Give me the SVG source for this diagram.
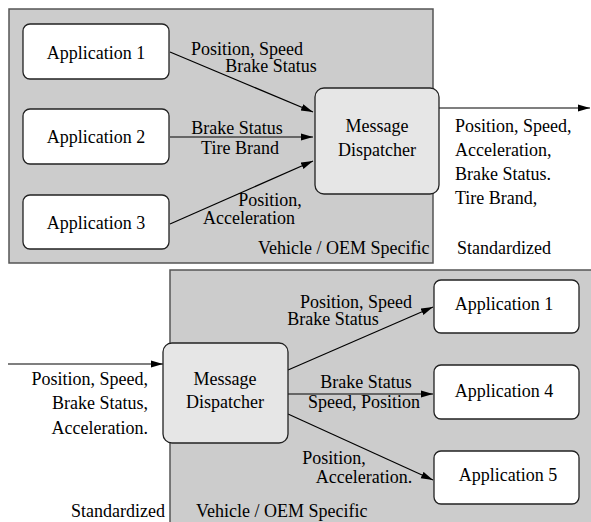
<svg xmlns="http://www.w3.org/2000/svg" width="591" height="522" viewBox="0 0 591 522" font-family="Times New Roman, Liberation Serif, serif">
<defs>
<marker id="ah" markerUnits="userSpaceOnUse" markerWidth="14" markerHeight="10" refX="12" refY="4" orient="auto">
<path d="M0,0.5 L12,4 L0,7.5 Z" fill="#000000"/>
</marker>
</defs>
<rect width="591" height="522" fill="#ffffff"/>
<g id="panels">
<rect id="top-panel" fill="#cccccc" stroke="#555555" stroke-width="1.5" x="9" y="9" width="424" height="254"/>
<rect id="bottom-panel" fill="#cccccc" stroke="#555555" stroke-width="1.5" x="170" y="270" width="425" height="256"/>
</g>
<g id="connectors" stroke="#000000" stroke-width="1.2" fill="none" marker-end="url(#ah)">
<line x1="170" y1="52" x2="313" y2="112"/>
<line x1="170" y1="137" x2="313" y2="137"/>
<line x1="170" y1="224" x2="313" y2="161"/>
<line x1="439" y1="108" x2="590" y2="108"/>
<line x1="8" y1="364" x2="163" y2="364"/>
<line x1="288" y1="370" x2="433" y2="307"/>
<line x1="288" y1="394" x2="433" y2="394"/>
<line x1="288" y1="414" x2="433" y2="480"/>
</g>
<g id="top-app1"><rect fill="#ffffff" stroke="#222222" stroke-width="1.3" x="23" y="24" width="146" height="55" rx="7"/><text font-family="Times New Roman" font-size="18" text-anchor="middle" x="96" y="59">Application 1</text></g>
<g id="top-app2"><rect fill="#ffffff" stroke="#222222" stroke-width="1.3" x="23" y="109" width="146" height="55" rx="7"/><text font-family="Times New Roman" font-size="18" text-anchor="middle" x="96" y="143">Application 2</text></g>
<g id="top-app3"><rect fill="#ffffff" stroke="#222222" stroke-width="1.3" x="23" y="195" width="146" height="54" rx="7"/><text font-family="Times New Roman" font-size="18" text-anchor="middle" x="96" y="229">Application 3</text></g>
<g id="top-dispatcher"><rect fill="#e6e6e6" stroke="#222222" stroke-width="1.3" x="315" y="88" width="124" height="106" rx="9"/><text font-family="Times New Roman" font-size="18" text-anchor="middle" x="377" y="132">Message</text><text font-family="Times New Roman" font-size="18" text-anchor="middle" x="377" y="156">Dispatcher</text></g>
<g id="bottom-dispatcher"><rect fill="#e6e6e6" stroke="#222222" stroke-width="1.3" x="163" y="343" width="125" height="100" rx="9"/><text font-family="Times New Roman" font-size="18" text-anchor="middle" x="225" y="385">Message</text><text font-family="Times New Roman" font-size="18" text-anchor="middle" x="225" y="408">Dispatcher</text></g>
<g id="bottom-app1"><rect fill="#ffffff" stroke="#222222" stroke-width="1.3" x="434" y="280" width="145" height="53" rx="7"/><text font-family="Times New Roman" font-size="18" text-anchor="middle" x="504" y="310">Application 1</text></g>
<g id="bottom-app4"><rect fill="#ffffff" stroke="#222222" stroke-width="1.3" x="434" y="365" width="145" height="54" rx="7"/><text font-family="Times New Roman" font-size="18" text-anchor="middle" x="504" y="397">Application 4</text></g>
<g id="bottom-app5"><rect fill="#ffffff" stroke="#222222" stroke-width="1.3" x="434" y="451" width="145" height="53" rx="7"/><text font-family="Times New Roman" font-size="18" text-anchor="middle" x="508" y="481">Application 5</text></g>
<g id="labels">
<text font-family="Times New Roman" font-size="18" text-anchor="middle" x="247" y="55">Position, Speed</text>
<text font-family="Times New Roman" font-size="18" text-anchor="middle" x="271" y="72">Brake Status</text>
<text font-family="Times New Roman" font-size="18" text-anchor="middle" x="237" y="134">Brake Status</text>
<text font-family="Times New Roman" font-size="18" text-anchor="middle" x="240" y="154">Tire Brand</text>
<text font-family="Times New Roman" font-size="18" text-anchor="middle" x="270" y="206">Position,</text>
<text font-family="Times New Roman" font-size="18" text-anchor="middle" x="249" y="224">Acceleration</text>
<text font-family="Times New Roman" font-size="18" x="258" y="254">Vehicle / OEM Specific</text>
<text font-family="Times New Roman" font-size="18" x="457" y="254">Standardized</text>
<text font-family="Times New Roman" font-size="18" x="455" y="132">Position, Speed,</text>
<text font-family="Times New Roman" font-size="18" x="455" y="156">Acceleration,</text>
<text font-family="Times New Roman" font-size="18" x="455" y="180">Brake Status.</text>
<text font-family="Times New Roman" font-size="18" x="455" y="204">Tire Brand,</text>
<text font-family="Times New Roman" font-size="18" text-anchor="end" x="148" y="385">Position, Speed,</text>
<text font-family="Times New Roman" font-size="18" text-anchor="end" x="148" y="409">Brake Status,</text>
<text font-family="Times New Roman" font-size="18" text-anchor="end" x="148" y="434">Acceleration.</text>
<text font-family="Times New Roman" font-size="18" text-anchor="end" x="165" y="517">Standardized</text>
<text font-family="Times New Roman" font-size="18" x="196" y="517">Vehicle / OEM Specific</text>
<text font-family="Times New Roman" font-size="18" text-anchor="middle" x="356" y="308">Position, Speed</text>
<text font-family="Times New Roman" font-size="18" text-anchor="middle" x="333" y="325">Brake Status</text>
<text font-family="Times New Roman" font-size="18" text-anchor="middle" x="366" y="388">Brake Status</text>
<text font-family="Times New Roman" font-size="18" text-anchor="middle" x="364" y="408">Speed, Position</text>
<text font-family="Times New Roman" font-size="18" text-anchor="middle" x="334" y="464">Position,</text>
<text font-family="Times New Roman" font-size="18" text-anchor="middle" x="364" y="483">Acceleration.</text>
</g>
</svg>
